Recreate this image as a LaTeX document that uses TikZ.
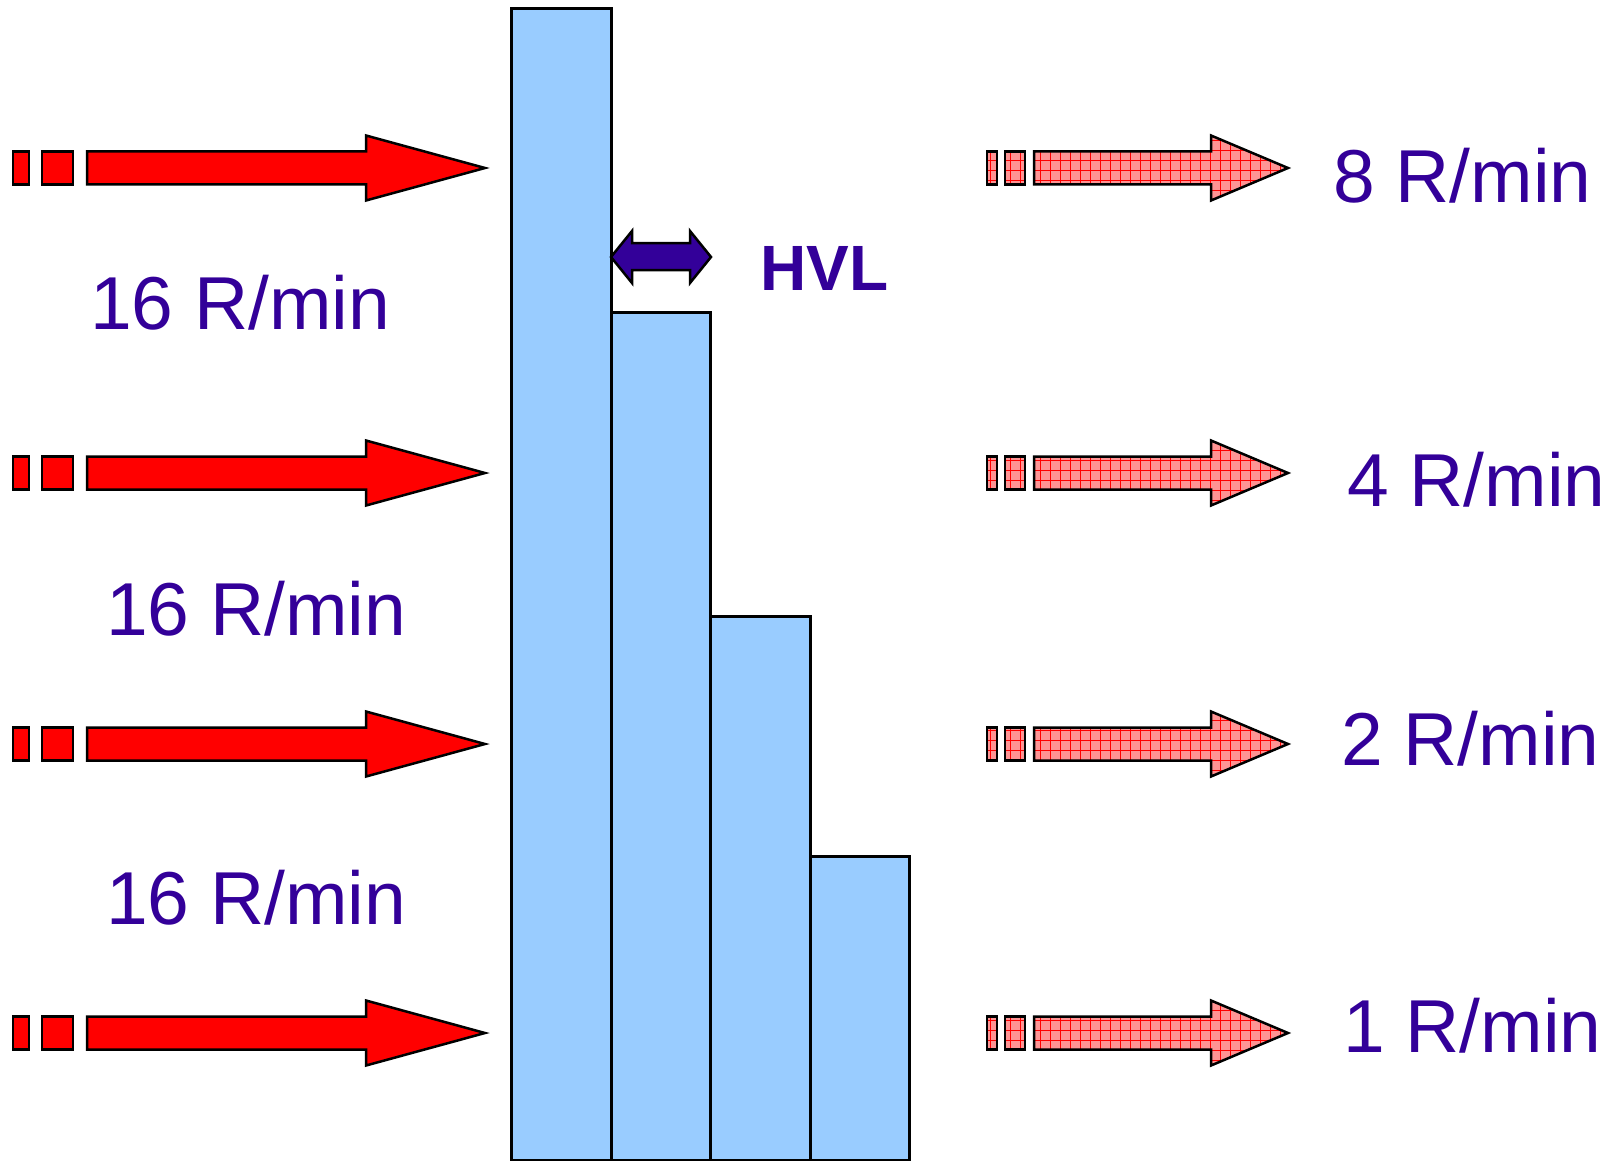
\documentclass[tikz,border=0pt]{standalone}
\usepackage{fontspec}
\setmainfont{Liberation Sans}
\definecolor{labelviolet}{RGB}{51,0,153}
\definecolor{barblue}{RGB}{153,204,255}
\definecolor{beamred}{RGB}{255,0,0}
\definecolor{beampink}{RGB}{255,148,148}
\begin{document}
\begin{tikzpicture}[x=1pt,y=-1pt,
  outline/.style={draw=black,line width=2.5pt,line join=miter},
  absorber/.style={draw=black,line width=3pt,fill=barblue},
  incident/.style={outline,fill=beamred},
  transmitted/.style={outline,fill=beampink,
    path picture={\draw[red,line width=0.8pt,step=10pt]
      ([xshift=-20pt,yshift=-20pt]path picture bounding box.south west) grid
      ([xshift=20pt,yshift=20pt]path picture bounding box.north east);}},
  rate/.style={text=labelviolet,inner sep=0pt,anchor=base west,
    font=\fontsize{75}{90}\selectfont},
  hvl/.style={text=labelviolet,inner sep=0pt,anchor=base west,
    font=\bfseries\fontsize{64}{76}\selectfont}]
\useasboundingbox (0,0) rectangle (1616,1161);

% absorber slabs, each one half-value layer thick
\draw[absorber] (511,9)   rectangle (611,1160);
\draw[absorber] (611,312) rectangle (710,1160);
\draw[absorber] (710,616) rectangle (810,1160);
\draw[absorber] (810,856) rectangle (909,1160);

% incident beams (left) and transmitted beams (right)
\foreach \y in {168,473,744,1033}{
  \draw[incident] (13,\y-16.5) rectangle (29,\y+16.5);
  \draw[incident] (42,\y-16.5) rectangle (73,\y+16.5);
  \draw[incident] (87,\y-16.5) -- (366,\y-16.5) -- (366,\y-32.5) -- (485,\y)
    -- (366,\y+32.5) -- (366,\y+16.5) -- (87,\y+16.5) -- cycle;
  \draw[transmitted] (987,\y-16.5) rectangle (997,\y+16.5);
  \draw[transmitted] (1005,\y-16.5) rectangle (1025,\y+16.5);
  \draw[transmitted] (1034,\y-16.5) -- (1211,\y-16.5) -- (1211,\y-32.5) -- (1288,\y)
    -- (1211,\y+32.5) -- (1211,\y+16.5) -- (1034,\y+16.5) -- cycle;
}

% half-value layer marker
\draw[outline,fill=labelviolet] (611,257) -- (632,231) -- (632,243) -- (690,243)
  -- (690,231) -- (711,257) -- (690,283) -- (690,270) -- (632,270) -- (632,283) -- cycle;
\node[hvl] (hvl) at (760,290) {HVL};

% exposure rates
\node[rate] (in1) at (90,329) {16 R/min};
\node[rate] (in2) at (106,635) {16 R/min};
\node[rate] (in3) at (106,924) {16 R/min};
\node[rate] (out1) at (1333,203) {8 R/min};
\node[rate] (out2) at (1347,506) {4 R/min};
\node[rate] (out3) at (1341,765) {2 R/min};
\node[rate] (out4) at (1343,1052) {1 R/min};
\end{tikzpicture}
\end{document}
